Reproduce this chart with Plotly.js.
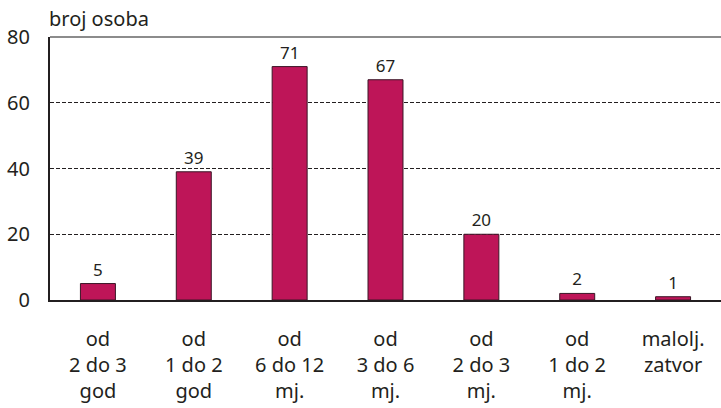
<!DOCTYPE html>
<html>
<head>
<meta charset="utf-8">
<script src="https://cdn.plot.ly/plotly-3.0.1.min.js"></script>
<style>html,body{margin:0;padding:0;background:#fff;}#chart{width:721px;height:408px;}</style>
</head>
<body>
<div id="chart"></div>
<script>
const categories = ["od<br>2 do 3<br>god", "od<br>1 do 2<br>god", "od<br>6 do 12<br>mj.", "od<br>3 do 6<br>mj.", "od<br>2 do 3<br>mj.", "od<br>1 do 2<br>mj.", "malolj.<br>zatvor"];
const values = [5, 39, 71, 67, 20, 2, 1];
const yTicks = [0, 20, 40, 60, 80];
const yTitle = "broj osoba";

const FONT = "Noto Sans, Open Sans, sans-serif";

const trace = {
  type: "bar",
  x: categories,
  y: values,
  text: values.map(String),
  textposition: "outside",
  textfont: {family: FONT, size: 17, color: "#231f20"},
  cliponaxis: false,
  marker: {color: "#BE1558", line: {color: "#3a1626", width: 1}},
  hoverinfo: "skip"
};

const layout = {
  width: 721, height: 408,
  margin: {l: 50, r: 0, t: 37, b: 108},
  paper_bgcolor: "#fff", plot_bgcolor: "#fff",
  showlegend: false,
  bargap: 0.635,
  font: {family: FONT, color: "#231f20"},
  title: {text: yTitle, x: 49/721, xanchor: "left", y: 1 - 19/408, yanchor: "middle",
          font: {family: FONT, size: 20, color: "#231f20"}},
  xaxis: {
    type: "category",
    showline: true, linecolor: "#231f20", linewidth: 2,
    showgrid: false, ticks: "",
    tickfont: {family: FONT, size: 20, color: "#231f20"},
    ticklabelstandoff: 20,
    fixedrange: true
  },
  yaxis: {
    range: [0, 80],
    tickvals: yTicks,
    ticktext: yTicks.map(String),
    showline: true, linecolor: "#231f20", linewidth: 2,
    showgrid: true, gridcolor: "#231f20", gridwidth: 1, griddash: "4px,2px",
    zeroline: false,
    ticks: "",
    ticklabelstandoff: 14,
    tickfont: {family: FONT, size: 20, color: "#231f20"},
    fixedrange: true
  },
  shapes: [
    {type: "line", xref: "paper", yref: "paper", x0: 0, x1: 1, y0: 1, y1: 1,
     line: {color: "#8c8c8c", width: 2}, layer: "above"}
  ]
};

Plotly.newPlot("chart", [trace], layout, {displayModeBar: false, staticPlot: true});
</script>
</body>
</html>
